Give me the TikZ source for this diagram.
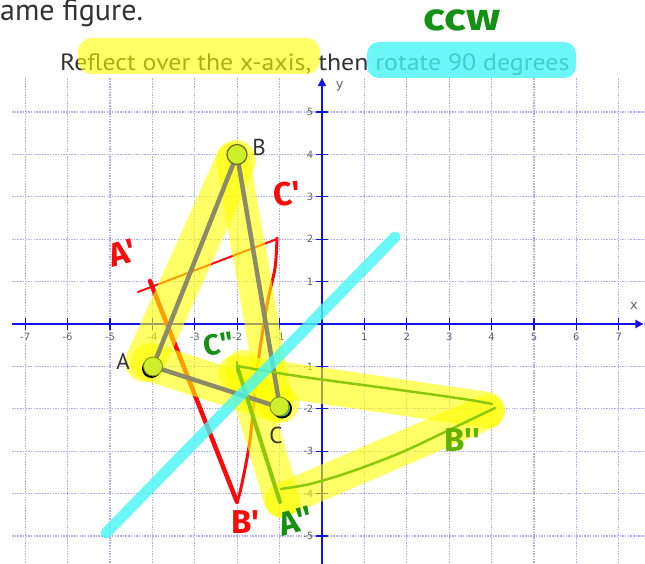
\documentclass[tikz,border=0pt]{standalone}
\usepackage{fontspec}
\usepackage{graphicx}
\setmainfont{PT Sans}
\newfontfamily\markfont{Fira Sans}
\newfontfamily\tickfont{DejaVu Sans}
\usetikzlibrary{arrows.meta}
\definecolor{gridc}{RGB}{175,175,238}
\definecolor{axisc}{RGB}{20,20,230}
\definecolor{hlyellow}{RGB}{255,255,0}
\definecolor{hlcyan}{RGB}{70,245,245}
\definecolor{redmark}{RGB}{250,10,10}
\definecolor{greenline}{RGB}{140,200,10}
\definecolor{greenmark}{RGB}{20,145,20}
\definecolor{bgreen}{RGB}{100,175,0}
\definecolor{dotc}{RGB}{205,238,40}
\definecolor{grayline}{RGB}{140,138,105}
\definecolor{textc}{RGB}{50,50,50}
\definecolor{tickc}{RGB}{100,100,100}
\definecolor{tealc}{RGB}{40,225,160}
\begin{document}
\begin{tikzpicture}[x=1pt,y=-1pt,
  gridline/.style={gridc, line width=1.3pt, dash pattern=on 1.5pt off 1.2pt},
  axisline/.style={axisc, line width=2pt},
  tickmark/.style={axisc, line width=1.2pt},
  ticklabel/.style={tickc, font=\tickfont\fontsize{10}{10}\selectfont, inner sep=0pt},
  hlband/.style={hlyellow, opacity=0.6, line width=#1, line cap=round},
  grayedge/.style={grayline, line width=4.5pt, line cap=round},
  redpen/.style={redmark, line width=#1, line cap=round, line join=round},
  greenpen/.style={greenline, line width=#1, line cap=round, line join=round},
  redlabel/.style={redmark, font=\markfont\bfseries\fontsize{33}{33}\selectfont, inner sep=0pt},
  greenlabel/.style={greenmark, font=\markfont\bfseries\fontsize{33}{33}\selectfont, inner sep=0pt},
  blacklabel/.style={textc, font=\fontsize{23}{23}\selectfont, inner sep=0pt},
  vdot/.style={fill=dotc, draw=dotc!60!black, line width=0.8pt}
]
\fill[white] (0,0) rectangle (645,564);
\useasboundingbox (0,0) rectangle (645,564);

% ---------- grid and axes ----------
\begin{scope}[shift={(322,324)}, x=42.4pt, y=42.4pt]
  \foreach \i in {-7,...,7} \draw[gridline] (\i,5.8) -- (\i,-5.66);
  \foreach \j in {-5,...,5} \draw[gridline] (-7.31,\j) -- (7.62,\j);
  \coordinate (xl) at (-7.31,0);
  \coordinate (xr) at (7.58,0);
  \coordinate (yb) at (0,-5.66);
  \coordinate (yt) at (0,5.8);
  \draw[axisline,-{Triangle[length=8pt,width=8pt]}] (xl) -- (xr);
  \draw[axisline,-{Triangle[length=8pt,width=8pt]}] (yb) -- (yt);
  \foreach \i in {-7,...,-1,1,2,...,7} {
    \draw[tickmark] (\i,0.14) -- (\i,-0.14);
    \node[ticklabel] at (\i,-0.31) {\i};
  }
  \foreach \j in {-5,...,-1,1,2,...,5} {
    \draw[tickmark] (-0.14,\j) -- (0.14,\j);
    \node[ticklabel, anchor=east] at (-0.2,\j) {\j};
  }
  \node[tickc, font=\tickfont\fontsize{13}{13}\selectfont, inner sep=0pt] (xlab) at (7.36,0.42) {x};
  \node[tickc, font=\tickfont\fontsize{13}{13}\selectfont, inner sep=0pt] (ylab) at (0.42,5.6) {y};
\end{scope}

% ---------- top texts ----------
\node[textc, font=\fontsize{30}{30}\selectfont, anchor=base west, inner sep=0pt] (title) at (0,21) {ame figure.};
\node[textc, font=\fontsize{23.5}{23.5}\selectfont, anchor=base west, inner sep=0pt] (instr) at (60,71) {\scalebox{1.1}[1]{Reflect over the x-axis, then rotate 90 degrees}};
\fill[hlyellow, opacity=0.6, rounded corners=14pt] (78,38) rectangle (320,74);
\fill[hlcyan, opacity=0.8, rounded corners=12pt] (367,42) rectangle (576,78);
\node[greenmark, font=\markfont\bfseries\fontsize{38}{38}\selectfont, inner sep=0pt] (ccw) at (462,20) {\scalebox{1.2}[1]{ccw}};

% ---------- points ----------
\coordinate (A) at (153,366.5);
\coordinate (B) at (237,154.5);
\coordinate (C) at (280,407.5);
\coordinate (Ap) at (150,281);
\coordinate (Apx) at (138,292);
\coordinate (Bp) at (237,502);
\coordinate (Cp) at (277,239);
\coordinate (App) at (280,502);
\coordinate (Bpp) at (492,404);
\coordinate (Cpp) at (237,366);

% ---------- red triangle (under highlighter) ----------
\draw[redpen=2pt] (Apx) -- (Cp);
\draw[redpen=4.5pt] (Ap) -- (Bp);
\draw[redpen=3pt] plot[smooth] coordinates {(277,238) (275,268) (267,305) (257,370) (250,440) (241,488) (237,502)};

% ---------- yellow highlighter bands ----------
\coordinate (hAB1) at (145,362); \coordinate (hAB2) at (236,160);
\coordinate (hBC1) at (233,160); \coordinate (hBC2) at (276,405);
\coordinate (hAC1) at (150,362); \coordinate (hAC2) at (280,404);
\coordinate (hCB1) at (236,373); \coordinate (hCB2) at (487,410);
\coordinate (hAB3) at (282,500); \coordinate (hAB4) at (487,412);
\coordinate (hCA1) at (243,368); \coordinate (hCA2) at (282,500);
\draw[hlband=40pt] (hAB1) -- (hAB2);
\draw[hlband=34pt] (hBC1) -- (hBC2);
\draw[hlband=38pt] (hAC1) -- (hAC2);
\draw[hlband=36pt] (hCB1) -- (hCB2);
\draw[hlband=34pt] (hAB3) -- (hAB4);
\draw[hlband=36pt] (hCA1) -- (hCA2);

% ---------- triangle ABC ----------
\draw[grayedge] (A) -- (B);
\draw[grayedge] (B) -- (C);
\draw[grayedge] (C) -- (A);

% ---------- green triangle ----------
\draw[greenpen=4pt] (238,369) -- (App);
\draw[greenpen=2.5pt] (237,362) -- (237,371);
\draw[greenpen=2.5pt] plot[smooth] coordinates {(Cpp) (300,376.5) (400,390) (467,399.5) (Bpp)};
\draw[greenpen=2.5pt] plot[smooth] coordinates {(281,489) (310,484) (350,472) (400,453) (447,431) (495,408)};

% ---------- cyan line ----------
\coordinate (cy1) at (106,533);
\coordinate (cy2) at (395,237);
\draw[hlcyan, opacity=0.8, line width=11pt, line cap=round] (cy1) -- (cy2);

% ---------- vertex dots ----------
\fill[black] (151.5,368.5) circle (9.5);
\fill[black] (282,408.5) circle (10);
\fill[tealc] (281.5,408) circle (8.5);
\draw[vdot] (A) circle (9.5);
\draw[vdot] (279.5,406.5) circle (9.5);
\draw[vdot, draw=olive!70!black, line width=1.2pt] (B) circle (10);

% ---------- labels ----------
\node[blacklabel] (LA) at (123,361) {A};
\node[blacklabel] (LB) at (259,147) {B};
\node[blacklabel] (LC) at (276,435) {C};
\node[redlabel, rotate=15] (LAp) at (122,253) {A'};
\node[redlabel, rotate=5] (LCp) at (287,194) {C'};
\node[redlabel] (LBp) at (245,522) {B'};
\node[greenlabel, rotate=15] (LApp) at (296,521) {A''};
\node[greenlabel, text=bgreen] (LBpp) at (462,440) {B''};
\node[greenlabel, rotate=10, font=\markfont\bfseries\fontsize{29}{29}\selectfont] (LCpp) at (219,344) {C''};
\end{tikzpicture}
\end{document}
